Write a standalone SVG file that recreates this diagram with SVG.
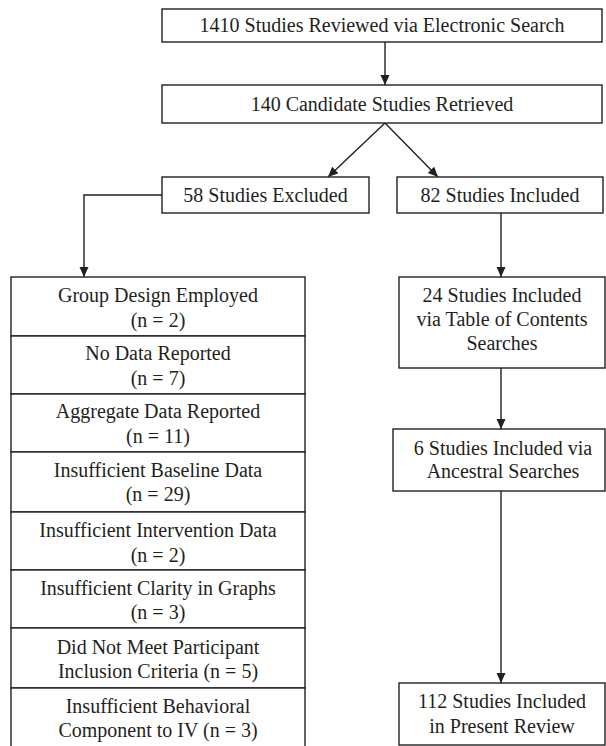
<svg xmlns="http://www.w3.org/2000/svg" width="606" height="746" viewBox="0 0 606 746">
<defs>
<style>
rect{fill:#fff;stroke:#231f20;stroke-width:1.4}
text{font-family:"Liberation Serif","Times New Roman",serif;font-size:20px;fill:#231f20;text-anchor:middle}
.c{fill:none;stroke:#231f20;stroke-width:1.4}
</style>
<marker id="ah" markerUnits="userSpaceOnUse" markerWidth="10" markerHeight="10" refX="10" refY="4.5" orient="auto">
<path d="M0,0 L10,4.5 L0,9 z" fill="#231f20"/>
</marker>
</defs>
<rect width="606" height="746" fill="#fff" style="stroke:none"/>
<g id="connectors">
<line class="c" x1="385" y1="42" x2="385" y2="85" marker-end="url(#ah)"/>
<line class="c" x1="385" y1="123" x2="328" y2="177" marker-end="url(#ah)"/>
<line class="c" x1="385" y1="123" x2="438" y2="177" marker-end="url(#ah)"/>
<polyline class="c" points="162,195 84,195 84,277" marker-end="url(#ah)"/>
<line class="c" x1="501" y1="213" x2="501" y2="277" marker-end="url(#ah)"/>
<line class="c" x1="501" y1="368" x2="501" y2="429" marker-end="url(#ah)"/>
<line class="c" x1="501" y1="491" x2="501" y2="683" marker-end="url(#ah)"/>
</g>
<g id="n1"><rect x="162" y="9" width="440" height="33"/><text x="382" y="32">1410 Studies Reviewed via Electronic Search</text></g>
<g id="n2"><rect x="162" y="85" width="440" height="38"/><text x="382" y="111">140 Candidate Studies Retrieved</text></g>
<g id="n3"><rect x="162" y="177" width="207" height="36"/><text x="265.5" y="202">58 Studies Excluded</text></g>
<g id="n4"><rect x="397" y="177" width="206" height="36"/><text x="500" y="202">82 Studies Included</text></g>
<g id="e1"><rect x="11" y="277" width="294" height="59"/><text x="158" y="302">Group Design Employed</text><text x="158" y="327">(n = 2)</text></g>
<g id="e2"><rect x="11" y="336" width="294" height="58"/><text x="158" y="360">No Data Reported</text><text x="158" y="385">(n = 7)</text></g>
<g id="e3"><rect x="11" y="394" width="294" height="58"/><text x="158" y="418">Aggregate Data Reported</text><text x="158" y="443">(n = 11)</text></g>
<g id="e4"><rect x="11" y="452" width="294" height="60"/><text x="158" y="477">Insufficient Baseline Data</text><text x="158" y="501">(n = 29)</text></g>
<g id="e5"><rect x="11" y="512" width="294" height="58"/><text x="158" y="537">Insufficient Intervention Data</text><text x="158" y="562">(n = 2)</text></g>
<g id="e6"><rect x="11" y="570" width="294" height="58"/><text x="158" y="595">Insufficient Clarity in Graphs</text><text x="158" y="619">(n = 3)</text></g>
<g id="e7"><rect x="11" y="628" width="294" height="60"/><text x="158" y="654">Did Not Meet Participant</text><text x="158" y="678">Inclusion Criteria (n = 5)</text></g>
<g id="e8"><rect x="11" y="688" width="294" height="62"/><text x="158" y="713">Insufficient Behavioral</text><text x="158" y="737">Component to IV (n = 3)</text></g>
<g id="n5"><rect x="399" y="277" width="206" height="91"/><text x="502" y="302">24 Studies Included</text><text x="502" y="326">via Table of Contents</text><text x="502" y="350">Searches</text></g>
<g id="n6"><rect x="393" y="429" width="212" height="62"/><text x="503" y="455">6 Studies Included via</text><text x="503" y="478">Ancestral Searches</text></g>
<g id="n7"><rect x="399" y="683" width="206" height="62"/><text x="502" y="708">112 Studies Included</text><text x="502" y="733">in Present Review</text></g>
</svg>
